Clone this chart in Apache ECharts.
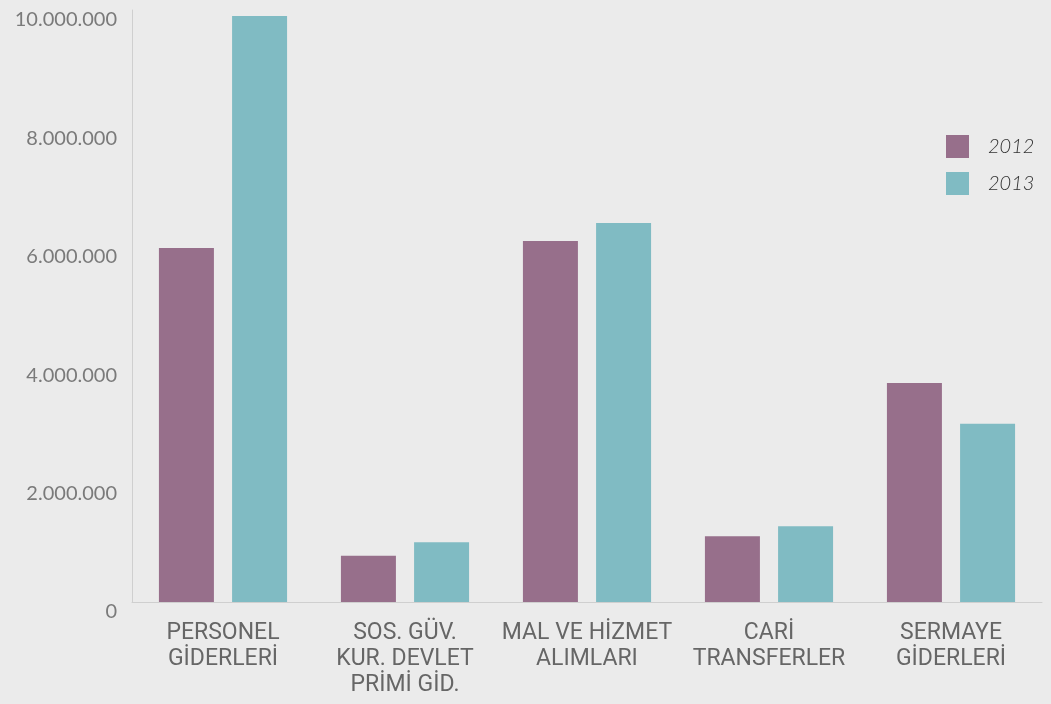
<!DOCTYPE html>
<html>
<head>
<meta charset="utf-8">
<script src="https://cdn.jsdelivr.net/npm/echarts@6/dist/echarts.min.js"></script>
<style>
  html, body { margin: 0; padding: 0; background: #ebebeb; }
  #chart { width: 1051px; height: 704px; }
</style>
</head>
<body>
<div id="chart"></div>
<script>
// kategoriler
const categories = [
  'PERSONEL\nGİDERLERİ',
  'SOS. GÜV.\nKUR. DEVLET\nPRİMİ GİD.',
  'MAL VE HİZMET\nALIMLARI',
  'CARİ\nTRANSFERLER',
  'SERMAYE\nGİDERLERİ'
]
// seri değerleri
const values2012 = [5980000, 780000, 6100000, 1110000, 3700000]
const values2013 = [9900000, 1010000, 6400000, 1280000, 3010000]
const seriesNames = ['2012', '2013']

const chart = echarts.init(document.getElementById('chart'))

const fmt = v => String(v).replace(/\B(?=(\d{3})+(?!\d))/g, '.')

const options = {
  backgroundColor: '#ebebeb',
  animation: false,
  color: ['#976f8b', '#80bbc3'],
  grid: { left: 132, right: 9, top: 10, bottom: 102 },
  legend: {
    data: seriesNames,
    orient: 'vertical',
    left: 941,
    top: 130,
    icon: 'rect',
    itemWidth: 23,
    itemHeight: 23,
    itemGap: 14,
    textStyle: {
      color: '#333',
      fontSize: 20,
      fontStyle: 'italic',
      fontFamily: 'Lato',
      fontWeight: 300,
      padding: [0, 0, 0, 14]
    }
  },
  xAxis: {
    type: 'category',
    data: categories,
    axisLine: { lineStyle: { color: '#cfcfcf', width: 1 } },
    axisTick: { inside: true, length: 15, lineStyle: { color: '#cfcfcf' } },
    axisLabel: {
      color: '#666',
      fontSize: 23,
      fontFamily: 'Roboto',
      lineHeight: 26,
      margin: 18,
      interval: 0
    }
  },
  yAxis: {
    type: 'value',
    min: 0,
    max: 10000000,
    interval: 2000000,
    splitLine: { show: false },
    axisLine: { show: true, lineStyle: { color: '#cfcfcf' } },
    axisTick: { show: false },
    axisLabel: {
      color: '#7a7a7a',
      fontSize: 20,
      fontFamily: 'Lato',
      margin: 15,
      verticalAlign: 'top',
      formatter: fmt
    }
  },
  series: [
    { name: seriesNames[0], type: 'bar', data: values2012, barWidth: 55, barGap: '33%' },
    { name: seriesNames[1], type: 'bar', data: values2013, barWidth: 55, barGap: '33%' }
  ]
}
chart.setOption(options)
</script>
</body>
</html>
